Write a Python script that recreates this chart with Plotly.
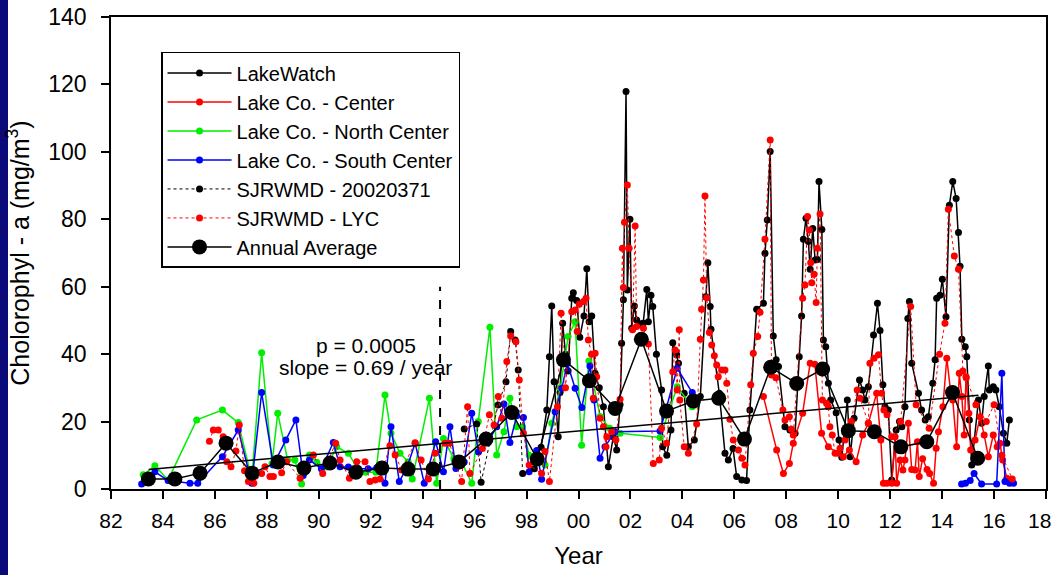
import plotly.graph_objects as go

# ---------------- data ----------------
lw_x = [1998.56, 1998.78, 1998.88, 1998.97, 1999.06, 1999.22, 1999.29, 1999.39, 1999.5, 1999.6, 1999.74, 1999.8,
        1999.93, 2000.05, 2000.21, 2000.32, 2000.41, 2000.51, 2000.64, 2000.8, 2000.96, 2001.15, 2001.34, 2001.47,
        2001.6, 2001.66, 2001.73, 2001.83, 2001.88, 2001.98, 2002.05, 2002.15, 2002.24, 2002.35, 2002.49, 2002.63,
        2002.69, 2002.79, 2002.86, 2003.0, 2003.2, 2003.24, 2003.4, 2003.56, 2003.63, 2003.78, 2003.85, 2004.07,
        2004.23, 2004.46, 2004.69, 2004.9, 2004.98, 2005.07, 2005.1, 2005.42, 2005.64, 2005.77, 2005.95, 2006.09,
        2006.29, 2006.47, 2006.6, 2006.86, 2007.12, 2007.18, 2007.27, 2007.38, 2007.5, 2007.61, 2007.7, 2007.95,
        2008.14, 2008.34, 2008.5, 2008.59, 2008.66, 2008.76, 2008.85, 2008.92, 2009.02, 2009.11, 2009.2, 2009.26,
        2009.37, 2009.43, 2009.52, 2009.62, 2009.71, 2009.92, 2010.03, 2010.14, 2010.35, 2010.46, 2010.61, 2010.82,
        2010.94, 2011.03, 2011.16, 2011.36, 2011.51, 2011.61, 2011.72, 2011.8, 2011.93, 2012.06, 2012.23, 2012.36,
        2012.45, 2012.57, 2012.68, 2012.74, 2012.83, 2013.09, 2013.21, 2013.35, 2013.47, 2013.64, 2013.73, 2013.79,
        2013.92, 2014.01, 2014.15, 2014.28, 2014.41, 2014.54, 2014.63, 2014.69, 2014.76, 2014.89, 2014.95, 2015.05,
        2015.14, 2015.4, 2015.52, 2015.62, 2015.78, 2015.82, 2015.97, 2016.07, 2016.2, 2016.36, 2016.49, 2016.59]
lw_y = [12.4, 23.4, 39.2, 54.3, 31.8, 15.5, 28.6, 49.2, 40, 35, 56.6, 58.2,
        55.9, 45, 51.3, 65.3, 49.6, 51.3, 34.3, 30, 24.4, 6.6, 15.5, 11.6,
        25, 43.2, 56.1, 117.9, 59, 80, 47.7, 54.3, 50.1, 49, 49.2, 59.2,
        49.6, 57.5, 54.1, 40, 29.4, 12.5, 10, 17.5, 43.4, 39.8, 37.3, 28.4,
        12.5, 14.5, 27.4, 57, 67.1, 54.1, 47.4, 28.4, 10.6, 8.6, 12, 3.7,
        2.7, 2.5, 23.4, 53.3, 55.1, 69.9, 79.8, 100.1, 45.4, 38.3, 36.3, 18.5,
        17.5, 16.5, 39.2, 51.3, 74.1, 80.3, 73.4, 65.2, 77.3, 67.9, 68.1, 91.2,
        77.0, 44.2, 42.2, 31.4, 26.4, 22.6, 14.5, 9.4, 26.4, 9.6, 21, 32.3,
        29.4, 26.4, 30.3, 45.7, 55.1, 47, 30.9, 24.4, 23.4, 2.7, 17.5, 20,
        18.5, 24.4, 50.6, 55.6, 37.3, 28.4, 23.4, 20.5, 21.4, 31.4, 38.3, 56.6,
        57.5, 62.2, 51.1, 84.2, 91.2, 86.2, 76.1, 66.1, 44.4, 42.2, 39.2, 20.5,
        7.1, 26.4, 19.5, 27.4, 36.5, 29.4, 30.3, 29.4, 24.4, 16.5, 13.6, 20.5]

lcc_x = [2007.12, 2007.63, 2007.89, 2008.12, 2008.27, 2008.63, 2008.92, 2009.1, 2009.36, 2009.62, 2010.0, 2010.2,
         2010.43, 2010.69, 2010.94, 2011.16, 2011.48, 2011.64, 2011.74, 2011.87, 2012.06, 2012.19, 2012.25, 2012.38,
         2012.49, 2012.57, 2012.7, 2012.83, 2012.96, 2013.05, 2013.12, 2013.25, 2013.42, 2013.52, 2013.67, 2013.77,
         2013.86, 2014.03, 2014.18, 2014.32, 2014.41, 2014.56, 2014.66, 2014.76, 2014.85, 2014.92, 2015.03, 2015.1,
         2015.27, 2015.46, 2015.62, 2015.78, 2015.97, 2016.12, 2016.23, 2016.33, 2016.49, 2016.62]
lcc_y = [27.4, 11.6, 4.6, 7.6, 13.6, 22.5, 37.3, 37, 16.5, 12.5, 10.6, 9.6,
         11.6, 8.1, 16, 19.5, 28.4, 14.5, 1.7, 1.7, 1.7, 15.5, 1.7, 8.6,
         5.6, 8.6, 19.5, 5.8, 5.6, 14, 3.7, 9, 5.8, 4.6, 1.7, 12.1,
         17, 24.4, 38.8, 29.4, 26.4, 12.5, 34.3, 27.4, 16, 33.3, 22.5, 11.6,
         14.5, 21.4, 16, 9.6, 16, 12.5, 13.6, 8.6, 3.2, 2.2]

lcn_x = [1983.24, 1983.69, 1984.2, 1985.3, 1986.29, 1986.9, 1987.42, 1987.8, 1988.2, 1988.42, 1988.8, 1989.08,
         1989.34, 1989.64, 1989.92, 1990.3, 1990.69, 1991.14, 1991.5, 1991.8, 1992.2, 1992.55, 1992.78, 1993.13,
         1993.44, 1993.6, 1994.26, 1994.54, 1994.8, 1995.2, 1995.5, 1995.89, 1996.14, 1996.59, 1996.85, 1997.13,
         1997.36, 1997.62, 1997.85, 1998.1, 1998.4, 1998.71, 1998.97, 1999.3, 1999.6, 1999.87, 2000.12, 2000.4,
         2000.83, 2001.2, 2001.6, 2003.14, 2003.8, 2004.38]
lcn_y = [4.2, 6.9, 2.7, 20.5, 23.4, 19.7, 3.0, 40.4, 7.5, 22.5, 8.6, 8.6,
         1.5, 10.1, 7.9, 6.5, 12.5, 10.6, 6, 5, 5, 27.9, 16.5, 10.6,
         8.1, 3, 26.9, 1.7, 15, 9, 8, 1.7, 20, 48, 10.1, 17,
         26.9, 18.5, 18.5, 10, 8, 7.1, 19.5, 30, 45.2, 49.6, 13, 38,
         21.5, 18, 16.5, 15.3, 30.3, 24.4]

lcs_x = [1983.18, 1983.69, 1984.2, 1985.04, 1985.34, 1986.29, 1986.9, 1987.42, 1987.8, 1988.25, 1988.73, 1989.12,
         1989.4, 1989.64, 1990.1, 1990.56, 1990.82, 1991.14, 1991.52, 1991.9, 1992.23, 1992.55, 1992.78, 1993.1,
         1993.4, 1993.71, 1994.06, 1994.5, 1994.8, 1995.05, 1995.28, 1995.6, 1995.89, 1996.15, 1996.5, 1996.85,
         1997.13, 1997.36, 1997.62, 1997.88, 1998.1, 1998.39, 1998.58, 1999.1, 1999.36, 1999.57, 1999.87, 2000.13,
         2000.44, 2000.6, 2000.83, 2001.02, 2001.4, 2003.14, 2003.8, 2004.38, None,
         2014.75, 2014.9, 2015.08, 2015.23, 2015.52, 2016.1, 2016.3, 2016.42, 2016.6, 2016.75]
lcs_y = [1.5, 5.1, 2.5, 1.7, 1.7, 9.6, 17.5, 1.7, 28.6, 7.1, 14.5, 20.5,
         4, 8.6, 6, 13.8, 6.6, 6.5, 6.1, 6, 6.3, 1.7, 18.5, 2.2,
         6.5, 13.6, 1.7, 14, 5.1, 18.5, 6.1, 8, 22.5, 11, 13.7, 18.5,
         25.2, 13.8, 21.7, 21.2, 5.1, 11.4, 2.9, 22.9, 29.9, 37.3, 29.9, 24.2,
         36.5, 26.4, 9.1, 12.5, 17, 17.2, 35.8, 28.6, None,
         1.5, 1.7, 2.5, 4.6, 1.5, 1.5, 34.3, 2.2, 1.7, 1.7]

sj1_x = [1995.6, 1996.08, 1996.25, 1996.9, 1997.21, 1997.39, 1997.56, 1997.68, 1997.85, 1998.3]
sj1_y = [17.8, 19.3, 2.0, 24.9, 31.8, 46.7, 44.2, 35.3, 4.6, 6]

lyc_x = [1985.79, 1985.94, 1986.13, 1986.32, 1986.46, 1986.62, 1986.81, 1986.94, 1987.14, 1987.29, 1987.5, 1987.8,
         1987.93, 1988.12, 1988.25, 1988.57, 1988.76, 1989.28, 1989.79, 1990.15, 1990.65, 1990.82, 1991.18, 1991.46,
         1991.78, 1991.97, 1992.17, 1992.36, 1992.74, 1992.94, 1993.19, 1993.71, 1993.94, 1994.22, 1994.48, 1994.86,
         1995.03, 1995.5, 1995.73, 1995.82, 1996.3, 1996.57, 1996.75, 1996.91, 1997.05, 1997.24, 1997.39, 1997.59,
         1997.72, 1997.88, 1998.1, 1998.58, 1998.71, 1998.88, 1999.19, 1999.33, 1999.5, 1999.74, 1999.87, 1999.95,
         2000.03, 2000.19, 2000.29, 2000.38, 2000.5, 2000.57, 2000.64, 2000.7, 2000.83, 2000.96, 2001.06, 2001.09,
         2001.28, 2001.44, 2001.6, 2001.69, 2001.73, 2001.77, 2001.88, 2001.95, 2002.08, 2002.18, 2002.24, 2002.5,
         2002.69, 2002.88, 2003.11, 2003.2, 2003.39, 2003.63, 2003.72, 2003.8, 2003.88, 2003.9, 2004.07, 2004.23,
         2004.55, 2004.69, 2004.74, 2004.81, 2004.87, 2004.94, 2005.04, 2005.13, 2005.23, 2005.32, 2005.38, 2005.51,
         2005.64, 2005.71, 2005.83, 2005.96, 2006.16, 2006.29, 2006.41, 2006.63, 2006.73, 2006.9, 2006.99, 2007.18,
         2007.38, 2007.43, 2007.6, 2007.87, 2007.95, 2008.12, 2008.2, 2008.27, 2008.63, 2008.72, 2008.82, 2008.89,
         2008.94, 2008.98, 2009.07, 2009.15, 2009.2, 2009.3, 2009.39, 2009.55, 2009.62, 2009.68, 2009.77, 2009.88,
         2010.07, 2010.26, 2010.5, 2010.73, 2010.84, 2011.16, 2011.22, 2011.38, 2011.55, 2011.67, 2011.76, 2011.88,
         2012.06, 2012.4, 2012.79, 2013.0, 2013.5, 2013.9, 2014.11, 2014.24, 2014.47, 2014.63, 2014.8, 2014.93,
         2015.3, 2015.7, 2016.0, 2016.3, 2016.7]
lyc_y = [14.2, 17.5, 17.5, 15.5, 8.1, 6.6, 11.3, 19, 5.4, 2.2, 1.7, 4.6,
         6.6, 3.7, 3.7, 4.8, 8.1, 3.2, 10.1, 4.6, 13.6, 8.6, 3.2, 8.1,
         8.1, 2.2, 2.7, 3.0, 12.8, 10.1, 5.6, 13.7, 8.6, 3, 10.6, 13.6,
         13.6, 2.2, 24.4, 4.6, 12, 22, 19, 27.4, 21, 37.8, 45.4, 43.7,
         32.3, 16.5, 7.1, 4.6, 11.1, 2.2, 24.4, 52.1, 30, 52.6, 53.1, 46.7,
         54.8, 55.6, 56.6, 44.2, 40, 26.9, 40.3, 33.3, 21, 18.5, 12.5, 15.5,
         17, 14.5, 26.6, 71.4, 59.8, 79.1, 90.2, 71.4, 47.2, 78, 48.2, 47.7,
         43, 7.6, 8.6, 18, 13.6, 34.8, 41.2, 29.4, 47.2, 26.4, 12.5, 10.6,
         19.3, 44.4, 53.3, 62, 86.9, 56.7, 46.4, 42.7, 39.5, 36.8, 33.3, 35.3,
         35.3, 31.4, 20.7, 14.5, 11.6, 9.1, 7.1, 30.9, 40.3, 45.2, 52.4, 74.1,
         103.5, 33.8, 33, 23.4, 20.5, 21.4, 17.7, 16, 56.6, 60.5, 80.8, 76.8,
         67.1, 61.2, 63.7, 55.3, 71.4, 81.6, 26.4, 25.4, 24.4, 18.5, 16, 10.6,
         12.1, 14.5, 20, 29.4, 26.9, 19.5, 37.3, 38.8, 39.8, 28.4, 23.4, 22,
         15.5, 20, 54.1, 25, 18, 40, 49.2, 83, 69.1, 65.2, 35, 33,
         25, 20, 25, 10, 3]

avg_x = [1983.44, 1984.46, 1985.43, 1986.43, 1987.43, 1988.43, 1989.43, 1990.43, 1991.43, 1992.43, 1993.44, 1994.40,
         1995.40, 1996.44, 1997.43, 1998.41, 1999.42, 2000.42, 2001.41, 2002.42, 2003.39, 2004.42, 2005.40, 2006.39,
         2007.40, 2008.40, 2009.40, 2010.39, 2011.39, 2012.41, 2013.41, 2014.40, 2015.37]
avg_y = [3.0, 3.0, 4.7, 13.6, 4.7, 8.0, 6.2, 7.7, 5.0, 6.2, 5.9, 5.9,
         8.0, 14.8, 22.7, 8.9, 38.3, 32.1, 23.9, 44.4, 23.1, 26.1, 26.9, 14.8,
         36.1, 31.3, 35.6, 17.3, 17.0, 12.5, 14.0, 28.6, 9.1]

trend_x = [1983.45, 2015.4]
trend_y = [5.8, 27.8]

tick_vals = list(range(1982, 2019, 2))
tick_text = ["82", "84", "86", "88", "90", "92", "94", "96", "98", "00", "02", "04", "06", "08", "10",
             "12", "14", "16", ""]
last_tick_label = "18"

FONT = "Arial, Liberation Sans, sans-serif"
ms = 7

fig = go.Figure()
fig.add_trace(go.Scatter(x=lw_x, y=lw_y, mode="lines+markers", name="LakeWatch",
                         line=dict(color="black", width=1.5), marker=dict(color="black", size=ms)))
fig.add_trace(go.Scatter(x=lcc_x, y=lcc_y, mode="lines+markers", name="Lake Co. - Center",
                         line=dict(color="#ff0000", width=1.5), marker=dict(color="#ff0000", size=ms)))
fig.add_trace(go.Scatter(x=lcn_x, y=lcn_y, mode="lines+markers", name="Lake Co. - North Center",
                         line=dict(color="#00ee00", width=1.5), marker=dict(color="#00ee00", size=ms)))
fig.add_trace(go.Scatter(x=lcs_x, y=lcs_y, mode="lines+markers", name="Lake Co. - South Center",
                         line=dict(color="#0000ff", width=1.5), marker=dict(color="#0000ff", size=ms),
                         connectgaps=False))
fig.add_trace(go.Scatter(x=sj1_x, y=sj1_y, mode="lines+markers", name="SJRWMD - 20020371",
                         line=dict(color="black", width=1, dash="dot"), marker=dict(color="black", size=ms)))
fig.add_trace(go.Scatter(x=lyc_x, y=lyc_y, mode="lines+markers", name="SJRWMD - LYC",
                         line=dict(color="#ff0000", width=1, dash="dot"), marker=dict(color="#ff0000", size=ms)))
fig.add_trace(go.Scatter(x=avg_x, y=avg_y, mode="lines+markers", name="Annual Average",
                         line=dict(color="black", width=1.5), marker=dict(color="black", size=15)))
fig.add_trace(go.Scatter(x=trend_x, y=trend_y, mode="lines", showlegend=False,
                         line=dict(color="black", width=1.5)))

fig.add_shape(type="line", x0=1994.67, x1=1994.67, y0=0, y1=60, xref="x", yref="y",
              line=dict(color="black", width=2, dash="dash"))

fig.add_annotation(x=1991.8, y=42.7, text="p = 0.0005", showarrow=False, xref="x", yref="y",
                   font=dict(family=FONT, size=21, color="black"))
fig.add_annotation(x=1991.8, y=35.9, text="slope = 0.69 / year", showarrow=False, xref="x", yref="y",
                   font=dict(family=FONT, size=21, color="black"))
# last x tick label, nudged left so it stays inside the page
fig.add_annotation(x=tick_vals[-1], y=0, xref="x", yref="paper", text=last_tick_label, showarrow=False,
                   xanchor="center", yanchor="middle", xshift=-7, yshift=-31,
                   font=dict(family=FONT, size=21, color="black"))

fig.update_layout(
    width=1054, height=575,
    margin=dict(l=111, r=8, t=17, b=86, autoexpand=False),
    paper_bgcolor="white", plot_bgcolor="white",
    font=dict(family=FONT, size=20, color="black"),
    showlegend=True,
    legend=dict(x=0.0535, y=0.926, xanchor="left", yanchor="top",
                bordercolor="black", borderwidth=1.5, bgcolor="white",
                font=dict(family=FONT, size=20, color="black"),
                itemsizing="trace", itemwidth=64, tracegroupgap=0),
    xaxis=dict(range=[1982, 2018], tickvals=tick_vals, ticktext=tick_text, automargin=False,
               showline=True, linecolor="black", linewidth=1.5, mirror=True,
               ticks="outside", ticklen=8, tickwidth=1.5, tickcolor="black",
               showgrid=False, zeroline=False, ticklabelstandoff=4,
               title=dict(text="Year", font=dict(family=FONT, size=24), standoff=16),
               tickfont=dict(family=FONT, size=21)),
    yaxis=dict(range=[0, 140], tickvals=list(range(0, 141, 20)), automargin=False,
               showline=True, linecolor="black", linewidth=1.5, mirror=True,
               ticks="outside", ticklen=8, tickwidth=1.5, tickcolor="black",
               showgrid=False, zeroline=False, ticklabelstandoff=10,
               title=dict(text="Cholorophyl - a (mg/m<sup>3</sup>)", font=dict(family=FONT, size=25), standoff=12),
               tickfont=dict(family=FONT, size=23)),
)

# dark blue slide edge at the left
fig.add_shape(type="rect", xref="paper", yref="paper", x0=-111/935, x1=-103/935, y0=-86/472, y1=1+17/472,
              fillcolor="#0a0a7a", line=dict(width=0), layer="below")

fig.write_html("out.html", config={"displayModeBar": False},
               post_script="document.body.style.margin='0';document.body.style.overflow='hidden';")
